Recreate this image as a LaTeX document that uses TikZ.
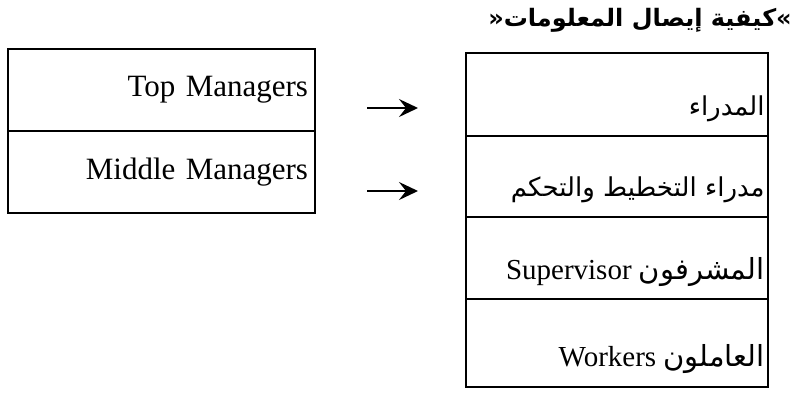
\documentclass[tikz,border=0pt]{standalone}
\usepackage{fontspec}
\setmainfont{Liberation Serif}
\newfontfamily\arabicfont[Script=Arabic]{DejaVu Sans}
\TeXXeTstate=1
\usetikzlibrary{arrows.meta}
\begin{document}
\begin{tikzpicture}[x=1pt,y=-1pt,
  row/.style={draw,line width=1.6pt,inner sep=0pt},
  lrow/.style={row,minimum width=307pt,minimum height=82pt,text width=293pt,align=right,
    font=\fontsize{31}{36}\selectfont},
  rrow/.style={row,minimum width=302pt},
  rtext/.style={anchor=base east,inner sep=0pt,font=\fontsize{29}{34}\selectfont},
  ar/.style={font=\fontsize{26}{30}\arabicfont},
  arr/.style={line width=2pt,-{Stealth[length=19pt,width=18pt,inset=7pt]}}]
\useasboundingbox (0,0) rectangle (795,392);
% title
\node[anchor=east,inner sep=0pt,font=\fontsize{24}{28}\arabicfont\bfseries] (title) at (792,20)
  {\beginR»كيفية إيصال المعلومات«\endR};
% left table
\node[lrow] (top) at (161.5,90) {Top Managers};
\node[lrow] (mid) at (161.5,172) {Middle Managers};
% right table
\node[rrow,minimum height=83pt] (r1) at (617,94.5) {};
\node[rrow,minimum height=81pt] (r2) at (617,176.5) {};
\node[rrow,minimum height=82pt] (r3) at (617,258) {};
\node[rrow,minimum height=88pt] (r4) at (617,343) {};
\node[rtext,ar] (t1) at ([xshift=-4pt,yshift=21pt]r1.south east) {\beginR المدراء\endR};
\node[rtext,ar] (t2) at ([xshift=-4pt,yshift=21pt]r2.south east) {\beginR مدراء التخطيط والتحكم\endR};
\node[rtext] (t3) at ([xshift=-4pt,yshift=20pt]r3.south east)
  {\beginR{\arabicfont المشرفون} Supervisor\endR};
\node[rtext] (t4) at ([xshift=-4pt,yshift=21pt]r4.south east)
  {\beginR{\arabicfont العاملون} Workers\endR};
% arrows
\coordinate (a1) at (367,108);
\coordinate (b1) at (418,108);
\coordinate (a2) at (367,191);
\coordinate (b2) at (418,191);
\draw[arr] (a1) -- (b1);
\draw[arr] (a2) -- (b2);
\end{tikzpicture}
\end{document}
